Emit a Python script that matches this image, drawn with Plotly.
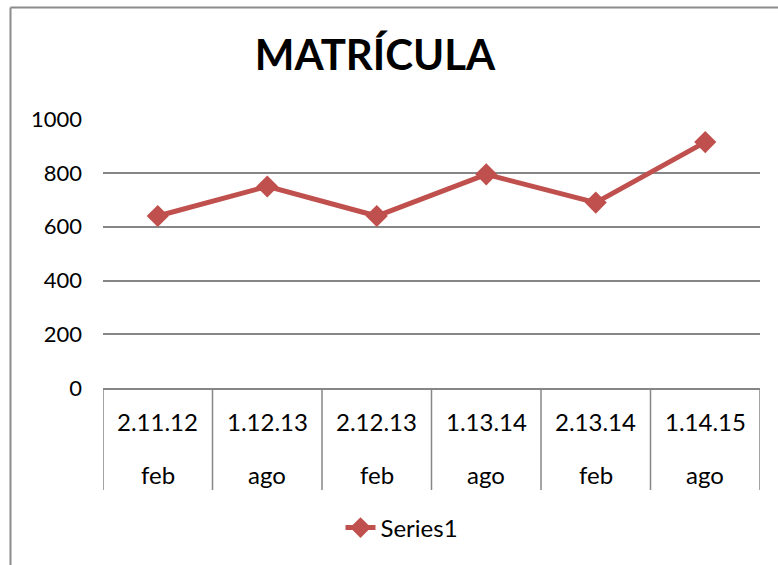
"""Line chart: MATRÍCULA by period, Excel-style two-row category axis."""
import plotly.graph_objects as go

# data
periods = ["2.11.12", "1.12.13", "2.12.13", "1.13.14", "2.13.14", "1.14.15"]
months = ["feb", "ago", "feb", "ago", "feb", "ago"]
enrollment = [640, 750, 640, 795, 690, 915]
y_ticks = [0, 200, 400, 600, 800, 1000]

W, H = 778, 565
L, R, T, B = 103, 18, 119, 177
plot_w = W - L - R
plot_h = H - T - B

RED = "#C0504D"
GRID = "#868686"
FONT = "Lato, Calibri, 'Open Sans', sans-serif"


def px_to_xpaper(px):
    return (px - L) / plot_w


def px_to_ypaper(py):
    return (H - B - py) / plot_h


fig = go.Figure()
fig.add_trace(go.Scatter(
    x=list(range(len(periods))),
    y=enrollment,
    mode="lines+markers",
    name="Series1",
    line=dict(color=RED, width=5),
    marker=dict(symbol="diamond", size=17, color=RED),
))

# category labels (two rows) and dividers
annotations = []
shapes = []
for i, (p, m) in enumerate(zip(periods, months)):
    annotations.append(dict(x=i, xref="x", y=px_to_ypaper(421), yref="paper",
                            text=p, showarrow=False, yanchor="middle",
                            font=dict(size=24, color="black", family=FONT)))
    annotations.append(dict(x=i, xref="x", y=px_to_ypaper(474), yref="paper",
                            text=m, showarrow=False, yanchor="middle",
                            font=dict(size=24, color="black", family=FONT)))
for i in range(len(periods) + 1):
    shapes.append(dict(type="line", xref="x", yref="paper",
                       x0=i - 0.5, x1=i - 0.5, y0=0, y1=px_to_ypaper(490),
                       line=dict(color=GRID, width=1.5)))

# chart frame (left and top edges visible)
shapes.append(dict(type="line", xref="paper", yref="paper",
                   x0=px_to_xpaper(10.5), x1=px_to_xpaper(10.5),
                   y0=px_to_ypaper(7.5), y1=px_to_ypaper(600),
                   line=dict(color="#8c8c8c", width=2)))
shapes.append(dict(type="line", xref="paper", yref="paper",
                   x0=px_to_xpaper(10.5), x1=px_to_xpaper(800),
                   y0=px_to_ypaper(7.5), y1=px_to_ypaper(7.5),
                   line=dict(color="#8c8c8c", width=2)))

fig.update_layout(
    width=W, height=H,
    margin=dict(l=L, r=R, t=T, b=B),
    paper_bgcolor="white", plot_bgcolor="white",
    font=dict(family=FONT, size=22, color="black"),
    title=dict(text="<b>MATRÍCULA</b>", x=375 / W, xanchor="center",
               y=1 - 55 / H, yanchor="middle", xref="container", yref="container",
               font=dict(size=42, family=FONT, color="black")),
    showlegend=True,
    legend=dict(orientation="h", x=px_to_xpaper(402), xanchor="center",
                y=px_to_ypaper(528), yanchor="middle",
                font=dict(size=24, family=FONT), bgcolor="rgba(0,0,0,0)"),
    annotations=annotations,
    shapes=shapes,
)
fig.update_xaxes(range=[-0.5, len(periods) - 0.5], showticklabels=False,
                 showgrid=False, zeroline=False, showline=True,
                 linecolor=GRID, linewidth=1.5)
fig.update_yaxes(range=[0, 1001], tickvals=y_ticks, showgrid=True,
                 gridcolor=GRID, gridwidth=1.5, zeroline=False, showline=False,
                 ticklabelstandoff=20, tickfont=dict(size=22, family=FONT))

# drop the page's default body margin so the figure sits at the window origin
fig.write_html("out.html", config={"displayModeBar": False},
               post_script="document.body.style.margin='0';")
